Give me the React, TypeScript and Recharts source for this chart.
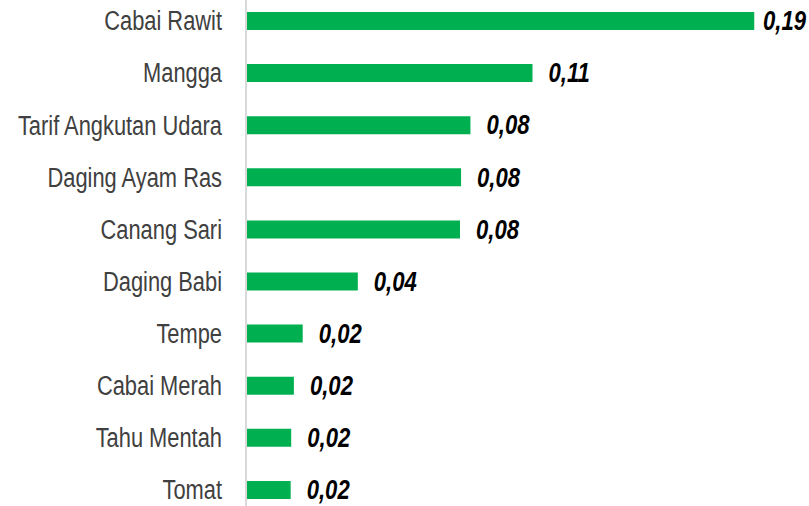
import React from "react";
import { BarChart, Bar, XAxis, YAxis, LabelList } from "recharts";

const categories = [
  "Cabai Rawit",
  "Mangga",
  "Tarif Angkutan Udara",
  "Daging Ayam Ras",
  "Canang Sari",
  "Daging Babi",
  "Tempe",
  "Cabai Merah",
  "Tahu Mentah",
  "Tomat",
];
const values = [0.19, 0.1071, 0.0839, 0.0804, 0.08, 0.0418, 0.0212, 0.0179, 0.0169, 0.0167];

const data = categories.map((name, i) => ({ name, value: values[i] }));

const FONT = "'Liberation Sans', Arial, sans-serif";
const SQUEEZE = 0.81;
const CHART_W = 809;
const LABEL_ROOM = 46;

const fmt = (v: any) => Number(v).toFixed(2).replace(".", ",");

const CategoryTick = (props: any) => {
  const { x, y, payload } = props;
  return (
    <g transform={`translate(${x},${y})`}>
      <text
        transform={`scale(${SQUEEZE},1)`}
        textAnchor="end"
        dominantBaseline="central"
        fill="#404040"
        fontSize={27}
        fontFamily={FONT}
      >
        {payload.value}
      </text>
    </g>
  );
};

const ValueLabel = (props: any) => {
  const { x, y, width, height, value } = props;
  const lx = Math.min(Number(x) + Number(width) + 16, CHART_W - LABEL_ROOM);
  const ly = Number(y) + Number(height) / 2;
  return (
    <g transform={`translate(${lx},${ly})`}>
      <text
        transform={`scale(0.82,1)`}
        textAnchor="start"
        dominantBaseline="central"
        fill="#000"
        fontSize={27}
        fontWeight="bold"
        fontStyle="italic"
        fontFamily={FONT}
      >
        {fmt(value)}
      </text>
    </g>
  );
};

export default function App() {
  return (
    <div style={{ position: "absolute", left: 0, top: -5, width: CHART_W, height: 521 }}>
      <BarChart
        width={CHART_W}
        height={521}
        data={data}
        layout="vertical"
        margin={{ top: 0, right: 28, bottom: 0, left: 0 }}
        barCategoryGap={0}
      >
        <XAxis type="number" domain={[0, 0.2]} hide />
        <YAxis
          type="category"
          dataKey="name"
          width={246}
          tickLine={false}
          tickSize={0}
          tickMargin={24}
          axisLine={{ stroke: "#d9d9d9", strokeWidth: 2 }}
          tick={<CategoryTick />}
          interval={0}
        />
        <Bar dataKey="value" fill="#00B050" barSize={18} isAnimationActive={false}>
          <LabelList dataKey="value" content={<ValueLabel />} />
        </Bar>
      </BarChart>
    </div>
  );
}
